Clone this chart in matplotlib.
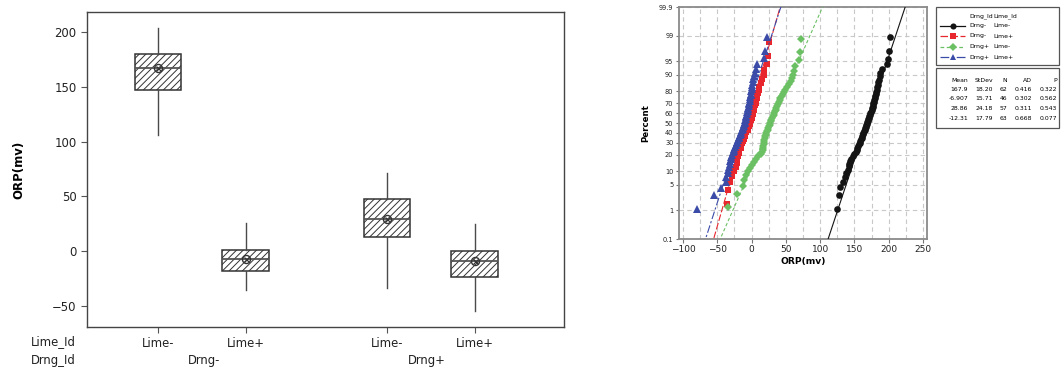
import math
import numpy as np
import matplotlib
matplotlib.use("Agg")
import matplotlib.pyplot as plt
from matplotlib.patches import Rectangle
from matplotlib.lines import Line2D
from matplotlib.transforms import blended_transform_factory

plt.rcParams["font.family"] = ["DejaVu Sans"]
plt.rcParams["hatch.linewidth"] = 0.7

# ---------------- data ----------------
lime_labels = ["Lime-", "Lime+", "Lime-", "Lime+"]
drng_labels = ["Drng-", "Drng+"]

box_q1 = [147.0, -18.0, 13.0, -23.5]
box_med = [167.0, -7.0, 29.5, -9.0]
box_q3 = [179.5, 1.5, 48.0, 0.0]
box_lo = [106.0, -35.0, -33.5, -54.5]
box_hi = [203.0, 25.5, 71.0, 24.5]
box_mean = [167.0, -7.0, 29.5, -8.5]

group_drng = ["Drng-", "Drng-", "Drng+", "Drng+"]
group_lime = ["Lime-", "Lime+", "Lime-", "Lime+"]

orp_drng_minus_lime_minus = [
    124.5, 127.5, 129.0, 134.0, 136.5, 138.0, 140.0, 141.5, 142.5, 143.5,
    145.0, 147.5, 150.0, 152.5, 153.5, 154.5, 155.5, 156.5, 157.5, 158.5,
    159.5, 160.5, 161.5, 162.0, 163.0, 164.0, 165.0, 165.5, 166.5, 167.0,
    168.0, 168.5, 169.5, 170.0, 171.0, 172.0, 172.5, 173.5, 174.0, 175.0,
    175.5, 176.5, 177.0, 177.5, 178.0, 179.0, 179.5, 180.0, 181.0, 181.5,
    182.5, 183.0, 184.5, 185.0, 186.0, 187.0, 188.0, 190.0, 197.0, 199.0,
    200.0, 201.5]
orp_drng_minus_lime_plus = [
    -35.5, -34.0, -32.0, -28.0, -26.0, -23.0, -22.0, -21.0, -20.0, -19.0,
    -18.0, -16.0, -15.0, -13.5, -12.5, -11.0, -10.0, -9.0, -7.5, -6.0,
    -5.0, -4.0, -3.0, -2.0, -1.0, 0.0, 1.0, 1.5, 2.0, 3.0,
    4.0, 5.0, 6.0, 7.0, 7.5, 8.5, 9.5, 10.5, 11.5, 13.0,
    15.0, 18.0, 18.5, 23.0, 24.5, 26.0]
orp_drng_plus_lime_minus = [
    -34.0, -22.0, -12.5, -11.0, -8.0, -6.0, -2.0, 1.0, 4.0, 7.0,
    10.0, 13.0, 15.0, 16.0, 16.5, 17.0, 17.5, 18.0, 18.5, 19.0,
    20.0, 21.0, 21.5, 22.5, 23.5, 24.5, 25.5, 26.5, 27.5, 28.0,
    29.0, 30.0, 31.0, 32.0, 33.0, 34.0, 35.0, 36.0, 37.0, 38.5,
    40.0, 41.0, 42.0, 44.0, 45.5, 47.0, 49.0, 52.0, 55.0, 57.0,
    59.0, 61.0, 62.0, 63.0, 69.5, 70.0, 71.5]
orp_drng_plus_lime_plus = [
    -80.0, -55.0, -44.0, -38.0, -37.0, -35.0, -34.0, -33.0, -32.0, -31.0,
    -30.0, -29.5, -28.5, -27.0, -26.0, -25.0, -24.0, -23.0, -22.0, -21.0,
    -20.0, -19.0, -18.0, -17.0, -16.0, -15.0, -14.0, -13.0, -12.0, -11.0,
    -10.5, -10.0, -9.5, -9.0, -8.5, -8.0, -7.5, -7.0, -6.5, -6.0,
    -5.5, -5.0, -4.5, -4.0, -3.5, -3.0, -2.5, -2.0, -1.5, -1.0,
    -0.5, 0.0, 0.5, 1.0, 1.5, 2.0, 3.0, 5.0, 6.5, 7.5,
    18.0, 19.0, 23.0]

fit_mean = [167.9, -6.907, 28.86, -12.31]
fit_stdev = [18.20, 15.71, 24.18, 17.79]
fit_ad = [0.416, 0.302, 0.311, 0.668]
fit_p = [0.322, 0.562, 0.543, 0.077]

percent_ticks = [0.1, 1, 5, 10, 20, 30, 40, 50, 60, 70, 80, 90, 95, 99, 99.9]
percent_labels = ["0.1", "1", "5", "10", "20", "30", "40", "50", "60", "70",
                  "80", "90", "95", "99", "99.9"]
orp_ticks = [-100, -50, 0, 50, 100, 150, 200, 250]

# ---------------- helpers ----------------
_erf = np.vectorize(math.erf)


def probit(p):
    """Inverse standard normal CDF by bisection."""
    p = np.atleast_1d(np.asarray(p, dtype=float))
    lo = np.full_like(p, -10.0)
    hi = np.full_like(p, 10.0)
    for _ in range(70):
        mid = 0.5 * (lo + hi)
        cdf = 0.5 * (1.0 + _erf(mid / math.sqrt(2.0)))
        below = cdf < p
        lo = np.where(below, mid, lo)
        hi = np.where(below, hi, mid)
    return 0.5 * (lo + hi)


fig = plt.figure(figsize=(10.61, 3.70), dpi=100)
W, H = 1061.0, 370.0

# ---------------- left: box plot ----------------
ax1 = fig.add_axes([87 / W, (H - 327) / H, 477 / W, 315 / H])
positions = [1.0, 2.0, 3.61, 4.61]
stats = []
for i in range(4):
    stats.append(dict(med=box_med[i], q1=box_q1[i], q3=box_q3[i],
                      whislo=box_lo[i], whishi=box_hi[i],
                      mean=box_mean[i], fliers=[]))
bp = ax1.bxp(stats, positions=positions, widths=0.53, patch_artist=True,
             showcaps=False, showfliers=False, showmeans=False,
             boxprops=dict(facecolor="white", edgecolor="#333333",
                           linewidth=1.1, hatch="/////"),
             medianprops=dict(color="#555555", linewidth=1.3),
             whiskerprops=dict(color="#4a4a4a", linewidth=1.0))
ax1.plot(positions, box_mean, linestyle="none", marker="o", markersize=5.8,
         markerfacecolor="none", markeredgecolor="#333333",
         markeredgewidth=1.0, zorder=5)
ax1.plot(positions, box_mean, linestyle="none", marker="x", markersize=3.6,
         markeredgecolor="#333333", markeredgewidth=0.9, zorder=5)

ax1.set_xlim(0.19, 5.63)
ax1.set_ylim(-69, 218)
ax1.set_yticks([-50, 0, 50, 100, 150, 200])
ax1.set_xticks(positions)
ax1.set_xticklabels(lime_labels)
ax1.tick_params(axis="both", direction="out", length=4, width=0.8,
                color="#555555", labelsize=8.4, labelcolor="#222222")
ax1.tick_params(axis="x", pad=3)
for sp in ax1.spines.values():
    sp.set_color("#444444")
    sp.set_linewidth(1.0)
ax1.set_ylabel("ORP(mv)", fontsize=8.5, fontweight="bold", labelpad=19)

btr = blended_transform_factory(ax1.transData, ax1.transAxes)
ax1.text((positions[0] + positions[1]) / 2 + 0.02, -0.105, drng_labels[0],
         transform=btr, ha="center", va="center", fontsize=8.4,
         color="#222222")
ax1.text((positions[2] + positions[3]) / 2 - 0.04, -0.105, drng_labels[1],
         transform=btr, ha="center", va="center", fontsize=8.4,
         color="#222222")
ax1.text(-0.118, -0.0467, "Lime_Id", transform=ax1.transAxes, ha="left",
         va="center", fontsize=8.4, color="#222222")
ax1.text(-0.118, -0.105, "Drng_Id", transform=ax1.transAxes, ha="left",
         va="center", fontsize=8.4, color="#222222")

# ---------------- right: normal probability plot ----------------
ax2 = fig.add_axes([679 / W, (H - 239) / H, 248 / W, 232 / H])
series = [orp_drng_minus_lime_minus, orp_drng_minus_lime_plus,
          orp_drng_plus_lime_minus, orp_drng_plus_lime_plus]
colors = ["#141414", "#e8262d", "#6cc064", "#3b4ba8"]
markers = ["o", "s", "D", "^"]
msizes = [4.8, 4.4, 4.4, 5.2]
dashes = [None, (6, 2), (3, 2), (7, 2, 2, 2)]

zlo, zhi = probit([0.001, 0.999])
zline = np.linspace(zlo - 0.2, zhi + 0.2, 50)
for k, vals in enumerate(series):
    v = np.sort(np.asarray(vals, dtype=float))
    n = len(v)
    ranks = np.arange(1, n + 1)
    z = probit((ranks - 0.3) / (n + 0.4))
    line, = ax2.plot(fit_mean[k] + fit_stdev[k] * zline, zline,
                     color=colors[k], linewidth=0.8, zorder=3 + k)
    if dashes[k] is not None:
        line.set_dashes(dashes[k])
    ax2.plot(v, z, linestyle="none", marker=markers[k], markersize=msizes[k],
             color=colors[k], markeredgewidth=0, zorder=3 + k)

ax2.set_xlim(-106, 256)
ax2.set_ylim(zlo, zhi)
ax2.set_xticks(orp_ticks)
ax2.set_xticks(np.arange(-75, 250, 50), minor=True)
ax2.set_yticks(probit(np.array(percent_ticks) / 100.0))
ax2.set_yticklabels(percent_labels)
ax2.grid(True, which="both", axis="x", color="#c8c8c8", linestyle=(0, (4, 3)),
         linewidth=0.8)
ax2.grid(True, which="major", axis="y", color="#c8c8c8",
         linestyle=(0, (4, 3)), linewidth=0.8)
ax2.set_axisbelow(True)
ax2.tick_params(axis="x", which="major", direction="out", length=3,
                width=0.8, color="#777777", labelsize=6.5, pad=1.5,
                labelcolor="#222222")
ax2.tick_params(axis="x", which="minor", length=0)
ax2.tick_params(axis="y", direction="out", length=2.5, width=0.8,
                color="#777777", labelsize=4.8, pad=1.5, labelcolor="#222222")
for sp in ax2.spines.values():
    sp.set_color("#8a8a8a")
    sp.set_linewidth(1.3)
ax2.set_xlabel("ORP(mv)", fontsize=6.6, fontweight="bold", labelpad=2)
ax2.set_ylabel("Percent", fontsize=6.2, fontweight="bold", labelpad=6)

# ---------------- legend and statistics table ----------------
lay = fig.add_axes([0, 0, 1, 1])
lay.set_xlim(0, W)
lay.set_ylim(H, 0)
lay.axis("off")

lay.add_patch(Rectangle((936, 6.7), 123, 58.3, facecolor="white",
                        edgecolor="#555555", linewidth=0.9))
lay.add_patch(Rectangle((936, 68.3), 123, 60.0, facecolor="white",
                        edgecolor="#555555", linewidth=0.9))

fs = 4.4
lay.text(969, 15.7, "Drng_Id", fontsize=fs, ha="left", va="center")
lay.text(993, 15.7, "Lime_Id", fontsize=fs, ha="left", va="center")
row_y = [25.7, 36.0, 46.7, 57.3]
for k in range(4):
    y = row_y[k]
    ln = Line2D([940, 965], [y, y], color=colors[k], linewidth=0.9)
    if dashes[k] is not None:
        ln.set_dashes(dashes[k])
    lay.add_line(ln)
    lay.plot([952.5], [y], marker=markers[k], markersize=msizes[k] - 0.4,
             color=colors[k], markeredgewidth=0)
    lay.text(969, y, group_drng[k], fontsize=fs, ha="left", va="center")
    lay.text(993, y, group_lime[k], fontsize=fs, ha="left", va="center")

col_x = [968.3, 993.0, 1007.3, 1032.0, 1057.0]
headers = ["Mean", "StDev", "N", "AD", "P"]
for cx, h in zip(col_x, headers):
    lay.text(cx, 81.0, h, fontsize=fs, ha="right", va="center")
stat_y = [89.5, 99.0, 108.6, 118.2]
for k in range(4):
    cells = [f"{fit_mean[k]:.4g}", f"{fit_stdev[k]:.2f}",
             f"{len(series[k])}", f"{fit_ad[k]:.3f}", f"{fit_p[k]:.3f}"]
    for cx, c in zip(col_x, cells):
        lay.text(cx, stat_y[k], c, fontsize=fs, ha="right", va="center")

fig.savefig("out.png", dpi=100)
